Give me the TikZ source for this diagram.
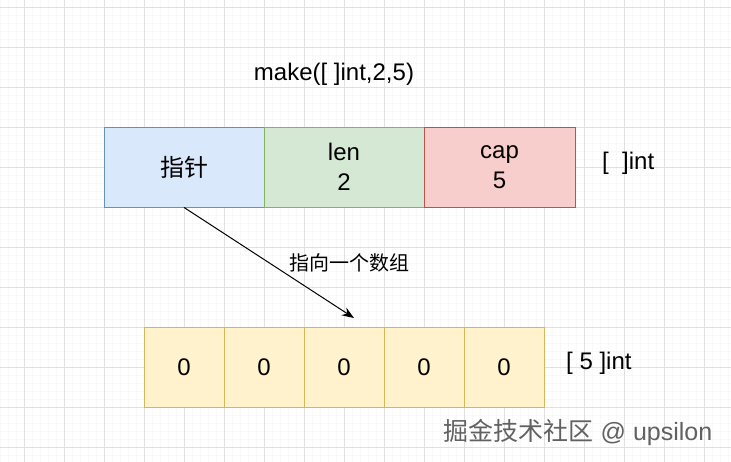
\documentclass[tikz,border=0pt]{standalone}
\usepackage{fontspec}
\setmainfont{Liberation Sans}
\newfontfamily\cjk{Noto Sans CJK SC}
\usetikzlibrary{arrows.meta}
\definecolor{blueF}{HTML}{DAE8FC}\definecolor{blueD}{HTML}{6C8EBF}
\definecolor{greenF}{HTML}{D5E8D4}\definecolor{greenD}{HTML}{82B366}
\definecolor{redF}{HTML}{F8CECC}\definecolor{redD}{HTML}{B85450}
\definecolor{yelF}{HTML}{FFF2CC}\definecolor{yelD}{HTML}{D6B656}
\definecolor{gridminor}{HTML}{F8F8F8}\definecolor{gridmajor}{HTML}{E0E0E0}
\begin{document}
\begin{tikzpicture}[x=1pt,y=-1pt,
  cell/.style={draw, line width=0.9pt, minimum height=80, inner sep=0pt, align=center, font=\fontsize{24}{30}\selectfont},
  txt/.style={inner sep=0pt, font=\fontsize{24}{30}\selectfont},
  minorline/.style={draw=gridminor, line width=0.6pt},
  majorline/.style={draw=gridmajor, line width=0.8pt},
  arr/.style={line width=1pt, -{Stealth[length=12pt,width=9pt]}}
]
\fill[white] (0,0) rectangle (731,462);
\useasboundingbox (0,0) rectangle (731,462);
% grid
\foreach \i in {0,...,91} {\path[minorline] (\i*8,0) -- (\i*8,462);}
\foreach \j in {0,...,57} {\path[minorline] (0,\j*8+7) -- (731,\j*8+7);}
\foreach \i in {0,...,17} {\path[majorline] (\i*40+24,0) -- (\i*40+24,462);}
\foreach \j in {0,...,11} {\path[majorline] (0,\j*40+7) -- (731,\j*40+7);}
% title
\node[txt] (title) at (334,74) {make([ ]int,2,5)};
% slice header
\node[cell, fill=blueF, draw=blueD, minimum width=160] (ptr) at (184,167) {\cjk 指针};
\node[cell, fill=greenF, draw=greenD, minimum width=160] (len) at (344,167) {len\\2};
\node[cell, fill=redF, draw=redD, minimum width=151] (cap) at (499.5,167) {cap\\5};
\node[txt, anchor=west] (slicetype) at (602,163) {[\ \ ]int};
% array
\foreach \k/\x in {1/184,2/264,3/344,4/424,5/504} {
  \node[cell, fill=yelF, draw=yelD, minimum width=80] (a\k) at (\x,367) {0};
}
\node[txt, anchor=west] (arrtype) at (566,363) {[ 5 ]int};
% pointer arrow
\coordinate (tip) at (354,318);
\draw[arr] (ptr.south) -- (tip);
\node[inner sep=0pt, font=\fontsize{20}{24}\selectfont\cjk] (lbl) at (349,263) {指向一个数组};
% watermark
\node[inner sep=0pt, text=black!62, font=\fontsize{25}{30}\selectfont] (wm) at (578,432) {{\cjk 掘金技术社区} @ upsilon};
\end{tikzpicture}
\end{document}
